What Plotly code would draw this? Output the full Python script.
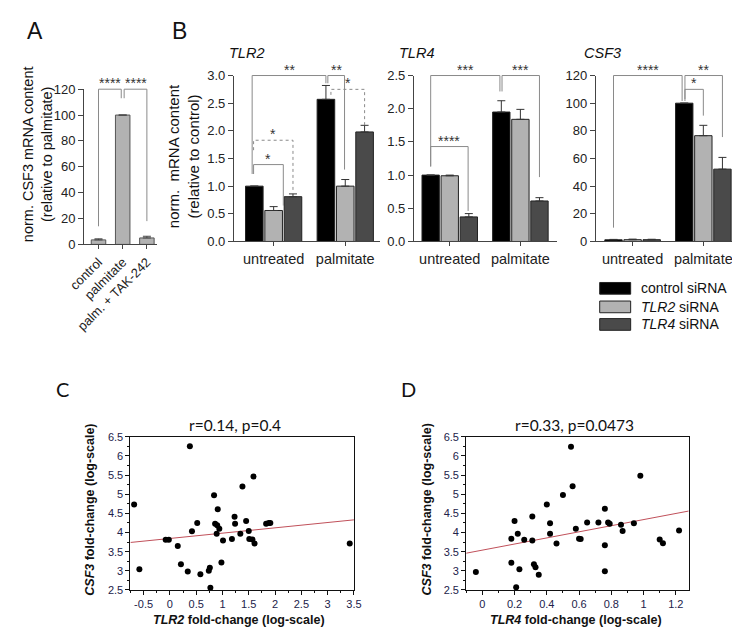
import plotly.graph_objects as go

# ---------------- data ----------------
A_categories = ["control", "palmitate", "palm. + TAK-242"]
A_values = [3.5, 100.0, 5.0]
A_errors = [0.8, 0.0, 1.3]

B_groups = ["untreated", "palmitate"]
B_series = ["control siRNA", "<i>TLR2</i> siRNA", "<i>TLR4</i> siRNA"]
B_colors = ["#000000", "#b2b2b2", "#4a4a4a"]

TLR2_ctrl = [1.0, 2.57]
TLR2_ctrl_err = [0.0, 0.25]
TLR2_siTLR2 = [0.56, 1.0]
TLR2_siTLR2_err = [0.07, 0.12]
TLR2_siTLR4 = [0.81, 1.98]
TLR2_siTLR4_err = [0.05, 0.12]

TLR4_ctrl = [1.0, 1.95]
TLR4_ctrl_err = [0.0, 0.17]
TLR4_siTLR2 = [0.99, 1.84]
TLR4_siTLR2_err = [0.01, 0.15]
TLR4_siTLR4 = [0.37, 0.61]
TLR4_siTLR4_err = [0.05, 0.05]

CSF3_ctrl = [1.2, 100.0]
CSF3_ctrl_err = [0.3, 0.0]
CSF3_siTLR2 = [1.3, 76.5]
CSF3_siTLR2_err = [0.4, 7.5]
CSF3_siTLR4 = [1.3, 52.3]
CSF3_siTLR4_err = [0.3, 8.5]

C_tlr2 = [-0.68, -0.58, -0.08, -0.02, 0.15, 0.21, 0.34, 0.38, 0.42, 0.52, 0.58, 0.74, 0.76,
          0.77, 0.84, 0.86, 0.90, 0.91, 0.89, 0.94, 0.98, 1.01, 1.18, 1.23, 1.24, 1.34, 1.38,
          1.45, 1.50, 1.51, 1.59, 1.57, 1.61, 1.83, 1.88, 1.91, 3.42]
C_csf3 = [4.73, 3.04, 3.81, 3.81, 3.65, 3.17, 2.98, 6.25, 4.03, 4.25, 2.91, 3.0, 3.08,
          2.56, 4.97, 4.23, 4.19, 4.61, 3.97, 4.1, 3.22, 3.79, 3.83, 4.41, 4.23, 3.97, 5.2,
          4.3, 4.04, 3.83, 5.46, 3.82, 3.71, 4.23, 4.25, 4.25, 3.71]
C_fit_x = [-0.75, 3.5]
C_fit_y = [3.74, 4.33]

D_tlr4 = [-0.04, 0.18, 0.18, 0.20, 0.21, 0.22, 0.23, 0.26, 0.31, 0.31, 0.32, 0.33, 0.35,
          0.40, 0.42, 0.42, 0.46, 0.50, 0.55, 0.56, 0.58, 0.60, 0.61, 0.65, 0.72, 0.76,
          0.76, 0.76, 0.78, 0.79, 0.86, 0.87, 0.94, 0.98, 1.10, 1.12, 1.22]
D_csf3 = [2.97, 3.84, 3.21, 4.3, 2.57, 3.97, 3.04, 3.81, 4.42, 3.79, 3.17, 3.09, 2.9,
          4.73, 4.24, 3.97, 3.71, 4.98, 6.24, 5.21, 4.1, 3.84, 3.83, 4.26, 4.26, 4.62,
          3.67, 2.99, 4.26, 4.23, 4.2, 4.04, 4.24, 5.48, 3.82, 3.72, 4.05]
D_fit_x = [-0.1, 1.28]
D_fit_y = [3.46, 4.56]

# ---------------- layout helpers ----------------
W, H = 740, 630
ARIAL = "Liberation Sans, Arial, sans-serif"
CALIBRI = "Lato, Carlito, sans-serif"


def fx(px):
    return px / W


def fy(py):
    return 1 - py / H


PANELS = {
    "A": dict(n=1, xd=(62, 137), yd=(76, 235), xr=(-0.6, 2.4), yr=(0, 120)),
    "TLR2": dict(n=2, xd=(217, 368), yd=(62, 232), xr=(-0.554, 1.486), yr=(0, 3)),
    "TLR4": dict(n=3, xd=(403, 551), yd=(62, 232), xr=(-0.507, 1.52), yr=(0, 2.5)),
    "CSF3": dict(n=4, xd=(591, 735), yd=(62, 232), xr=(-0.52, 1.45), yr=(0, 120)),
    "C": dict(n=5, xd=(110, 341), yd=(432, 589), xr=(-0.75, 3.5), yr=(2.5, 6.5)),
    "D": dict(n=6, xd=(457, 687), yd=(432, 589), xr=(-0.1, 1.28), yr=(2.5, 6.5)),
}


def px_of(p, xv):
    c = PANELS[p]
    return c["xd"][0] + (xv - c["xr"][0]) / (c["xr"][1] - c["xr"][0]) * (c["xd"][1] - c["xd"][0])


def py_of(p, yv):
    c = PANELS[p]
    return c["yd"][1] - (yv - c["yr"][0]) / (c["yr"][1] - c["yr"][0]) * (c["yd"][1] - c["yd"][0])


fig = go.Figure()
layout = {}

for key, c in PANELS.items():
    n = c["n"]
    layout[f"xaxis{n}"] = dict(
        domain=[fx(c["xd"][0]), fx(c["xd"][1])], range=list(c["xr"]), anchor=f"y{n}",
        showgrid=False, zeroline=False, showline=True, fixedrange=True,
    )
    layout[f"yaxis{n}"] = dict(
        domain=[fy(c["yd"][1]), fy(c["yd"][0])], range=list(c["yr"]), anchor=f"x{n}",
        showgrid=False, zeroline=False, showline=True, fixedrange=True,
    )

bar_tick = dict(family=ARIAL, size=13, color="#222")
# Panel A axes
layout["xaxis1"].update(tickvals=[0, 1, 2], ticktext=A_categories, tickangle=-45,
                        ticks="outside", ticklen=4, linecolor="#444", tickcolor="#444",
                        tickfont=dict(family=ARIAL, size=13, color="#222"))
layout["yaxis1"].update(dtick=20, tick0=0, ticks="outside", ticklen=5, linecolor="#444",
                        tickcolor="#444", tickfont=bar_tick)
# Panel B axes
for key, dt, fmt in [("TLR2", 0.5, ".1f"), ("TLR4", 0.5, ".1f"), ("CSF3", 20, "d")]:
    n = PANELS[key]["n"]
    layout[f"xaxis{n}"].update(tickvals=[0, 1], ticktext=B_groups, ticks="outside", ticklen=4,
                               linecolor="#444", tickcolor="#444",
                               tickfont=dict(family=ARIAL, size=14.5, color="#222"))
    layout[f"yaxis{n}"].update(dtick=dt, tick0=0, tickformat=fmt, ticks="outside", ticklen=5,
                               linecolor="#444", tickcolor="#444", tickfont=bar_tick)

# scatter axes
sc_tick = dict(family=ARIAL, size=11, color="#22224a")
layout["xaxis5"].update(tickvals=[-0.5, 0, 0.5, 1, 1.5, 2, 2.5, 3, 3.5],
                        ticktext=["-0.5", "0", "0.5", "1", "1.5", "2", "2.5", "3", "3.5"],
                        ticks="outside", ticklen=4, mirror=True, linecolor="#111",
                        tickcolor="#111", tickfont=sc_tick,
                        minor=dict(dtick=0.25, tick0=0, ticks="outside", ticklen=2, tickcolor="#111"))
layout["xaxis6"].update(dtick=0.2, tick0=0, ticks="outside", ticklen=4, mirror=True,
                        linecolor="#111", tickcolor="#111", tickfont=sc_tick,
                        minor=dict(dtick=0.1, tick0=0, ticks="outside", ticklen=2, tickcolor="#111"))
for n in (5, 6):
    layout[f"yaxis{n}"].update(dtick=0.5, tick0=2.5, ticks="outside", ticklen=4, mirror=True,
                               linecolor="#111", tickcolor="#111", tickfont=sc_tick,
                               minor=dict(dtick=0.25, tick0=2.5, ticks="outside", ticklen=2,
                                          tickcolor="#111"))

# ---------------- traces ----------------
fig.add_trace(go.Bar(
    x=[0, 1, 2], y=A_values, width=0.6, xaxis="x1", yaxis="y1", showlegend=False,
    marker=dict(color="#b2b2b2", line=dict(color="#555", width=1)),
    error_y=dict(type="data", array=A_errors, arrayminus=[0, 0, 0], symmetric=False,
                 color="#444", thickness=1, width=4),
))

B_data = {
    "TLR2": [(TLR2_ctrl, TLR2_ctrl_err), (TLR2_siTLR2, TLR2_siTLR2_err), (TLR2_siTLR4, TLR2_siTLR4_err)],
    "TLR4": [(TLR4_ctrl, TLR4_ctrl_err), (TLR4_siTLR2, TLR4_siTLR2_err), (TLR4_siTLR4, TLR4_siTLR4_err)],
    "CSF3": [(CSF3_ctrl, CSF3_ctrl_err), (CSF3_siTLR2, CSF3_siTLR2_err), (CSF3_siTLR4, CSF3_siTLR4_err)],
}
for key, series in B_data.items():
    n = PANELS[key]["n"]
    for i, (vals, errs) in enumerate(series):
        fig.add_trace(go.Bar(
            x=[0, 1], y=vals, xaxis=f"x{n}", yaxis=f"y{n}", offsetgroup=str(i),
            name=B_series[i], showlegend=False,
            marker=dict(color=B_colors[i], line=dict(color="#222", width=1)),
            error_y=dict(type="data", array=errs, arrayminus=[0, 0], symmetric=False,
                         color="#333", thickness=1, width=4),
        ))

for key, xs, ys, fxs, fys in [("C", C_tlr2, C_csf3, C_fit_x, C_fit_y),
                               ("D", D_tlr4, D_csf3, D_fit_x, D_fit_y)]:
    n = PANELS[key]["n"]
    fig.add_trace(go.Scatter(x=fxs, y=fys, mode="lines", xaxis=f"x{n}", yaxis=f"y{n}",
                             line=dict(color="#c0505a", width=1), showlegend=False))
    fig.add_trace(go.Scatter(x=xs, y=ys, mode="markers", xaxis=f"x{n}", yaxis=f"y{n}",
                             marker=dict(color="#000", size=6), showlegend=False))

# ---------------- significance brackets ----------------
BRACKETS = [
    # panel, x1, x2, top, left_end, right_end, label, dash
    ("A", 0.0, 0.94, 120, 14, 113, "****", "solid"),
    ("A", 1.06, 2.0, 120, 113, 18, "****", "solid"),
    ("TLR2", -0.30, 0.73, 3.0, 1.22, 2.86, "**", "solid"),
    ("TLR2", 0.757, 0.99, 3.0, 2.86, 1.3, "**", "solid"),
    ("TLR2", 0.80, 1.27, 2.75, 2.65, 2.06, "*", "dot"),
    ("TLR2", -0.28, 0.27, 1.83, 1.65, 0.88, "*", "dot"),
    ("TLR2", -0.28, 0.135, 1.39, 1.22, 0.65, "*", "solid"),
    ("TLR4", -0.27, 0.71, 2.5, 1.13, 2.26, "***", "solid"),
    ("TLR4", 0.74, 1.27, 2.5, 2.26, 0.97, "***", "solid"),
    ("TLR4", -0.27, 0.26, 1.43, 1.13, 0.46, "****", "solid"),
    ("CSF3", -0.27, 0.70, 120, 10, 101.6, "****", "solid"),
    ("CSF3", 0.74, 1.27, 120, 101.6, 75.5, "**", "solid"),
    ("CSF3", 0.74, 1.0, 110, 103, 91, "*", "solid"),
]
shapes = []
annotations = []
for p, x1, x2, top, e1, e2, lab, dash in BRACKETS:
    X1, X2 = fx(px_of(p, x1)), fx(px_of(p, x2))
    T, Y1, Y2 = fy(py_of(p, top)), fy(py_of(p, e1)), fy(py_of(p, e2))
    shapes.append(dict(type="path", xref="paper", yref="paper",
                       path=f"M {X1},{Y1} L {X1},{T} L {X2},{T} L {X2},{Y2}",
                       line=dict(color="#8a8a8a", width=1, dash=dash)))
    annotations.append(dict(xref="paper", yref="paper", x=(X1 + X2) / 2,
                            y=fy(py_of(p, top) - 6), text=lab, showarrow=False,
                            xanchor="center", yanchor="middle",
                            font=dict(family=ARIAL, size=14, color="#333")))

# ---------------- legend ----------------
legend_rows = [280, 299, 317]
for i, name in enumerate(B_series):
    yc = legend_rows[i]
    shapes.append(dict(type="rect", xref="paper", yref="paper",
                       x0=fx(595), x1=fx(627), y0=fy(yc + 6), y1=fy(yc - 6),
                       fillcolor=B_colors[i], line=dict(color="#222", width=1)))
    annotations.append(dict(xref="paper", yref="paper", x=fx(636), y=fy(yc), text=name,
                            showarrow=False, xanchor="left", yanchor="middle",
                            font=dict(family=ARIAL, size=14, color="#111")))


def text(x, y, t, size, family=ARIAL, angle=0, xanchor="center", color="#111"):
    annotations.append(dict(xref="paper", yref="paper", x=fx(x), y=fy(y), text=t,
                            showarrow=False, xanchor=xanchor, yanchor="middle",
                            textangle=angle, font=dict(family=family, size=size, color=color)))


# panel letters
text(11, 16, "A", 23)
text(161, 16, "B", 23)
text(40, 383, "C", 20, family=CALIBRI)
text(397, 383, "D", 20, family=CALIBRI)

# titles
text(230, 39, "<i>TLR2</i>", 14.5)
text(406, 39, "<i>TLR4</i>", 14.5)
text(598, 39, "<i>CSF3</i>", 14.5)

# y-axis titles for bar panels
text(14, 143, "norm. CSF3 mRNA content<br>(relative to palmitate)", 14.5, angle=-90)
text(165, 145, "norm.  mRNA content<br>(relative to control)", 15, angle=-90)

# scatter titles and labels
text(218, 420, "r=0.14, p=0.4", 15.5, family=CALIBRI)
text(569, 420, "r=0.33, p=0.0473", 15.5, family=CALIBRI)
text(222, 620, "<b><i>TLR2</i> fold-change (log-scale)</b>", 12.5)
text(570, 620, "<b><i>TLR4</i> fold-change (log-scale)</b>", 12.5)
text(68, 507, "<b><i>CSF3</i> fold-change (log-scale)</b>", 12.5, angle=-90)
text(416, 507, "<b><i>CSF3</i> fold-change (log-scale)</b>", 12.5, angle=-90)

fig.update_layout(
    width=W, height=H, autosize=False,
    margin=dict(l=0, r=0, t=0, b=0),
    paper_bgcolor="white", plot_bgcolor="rgba(0,0,0,0)",
    barmode="group", bargap=0.19, bargroupgap=0.09,
    shapes=shapes, annotations=annotations,
    showlegend=False,
    **layout,
)

fig.write_html("out.html")
